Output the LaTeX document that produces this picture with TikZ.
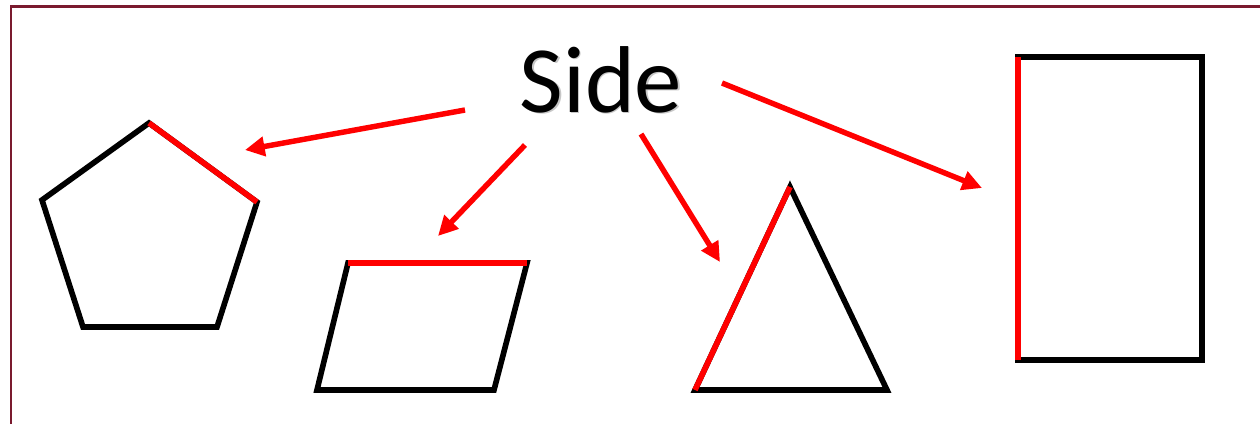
\documentclass[tikz,border=0pt]{standalone}
\usepackage{fontspec}
\newfontfamily\sidefont{Carlito}
\usetikzlibrary{arrows.meta}
\definecolor{framecol}{HTML}{7A1A2E}
\definecolor{sidered}{HTML}{FF0000}
\tikzset{
  shapeline/.style={draw=black, line width=1.6pt, line join=miter},
  sideline/.style={draw=sidered, line width=1.6pt, line cap=butt},
  pointer/.style={draw=sidered, line width=1.55pt, -{Triangle[length=5.6pt,width=5.4pt]}},
  framestyle/.style={draw=framecol, line width=0.85pt},
}
\begin{document}
\begin{tikzpicture}[x=0.01cm,y=-0.01cm]
\useasboundingbox (0,0) rectangle (1260,423);
\clip (0,0) rectangle (1260,423);
\fill[white] (0,0) rectangle (1260,423);
% frame (continues beyond the right and bottom edges)
\draw[framestyle] (11,440) -- (11,6.5) -- (1280,6.5);

% title
\node[anchor=base, text=black!22, inner sep=0pt] (sideshadow) at (602.5,113.5) {\sidefont\fontsize{27pt}{30pt}\selectfont Side};
\node[anchor=base, inner sep=0pt] (side) at (601,112) {\sidefont\fontsize{27pt}{30pt}\selectfont Side};

% pentagon
\coordinate (pA) at (149,123);
\coordinate (pB) at (257,202);
\coordinate (pC) at (217,327);
\coordinate (pD) at (83,327);
\coordinate (pE) at (42,200);
\draw[shapeline] (pA) -- (pB) -- (pC) -- (pD) -- (pE) -- cycle;
\draw[sideline] (pA) -- (pB);

% parallelogram
\coordinate (qA) at (348,263);
\coordinate (qB) at (527,263);
\coordinate (qC) at (494,390);
\coordinate (qD) at (317,390);
\draw[shapeline] (qA) -- (qB) -- (qC) -- (qD) -- cycle;
\draw[sideline] (qA) -- (qB);

% triangle
\coordinate (tA) at (790,187);
\coordinate (tB) at (887,390);
\coordinate (tC) at (695,390);
\draw[shapeline] (tA) -- (tB) -- (tC) -- cycle;
\draw[sideline] (tC) -- (tA);

% rectangle
\coordinate (rA) at (1018,57);
\coordinate (rB) at (1202,57);
\coordinate (rC) at (1202,360);
\coordinate (rD) at (1018,360);
\draw[shapeline] (rA) -- (rB) -- (rC) -- (rD) -- cycle;
\draw[sideline] (rD) -- (rA);

% pointers
\coordinate (s1) at (465,110);
\coordinate (e1) at (245,150);
\coordinate (s2) at (525,145);
\coordinate (e2) at (438,236);
\coordinate (s3) at (641,134);
\coordinate (e3) at (720,262);
\coordinate (s4) at (722,83);
\coordinate (e4) at (982,188);
\draw[pointer] (s1) -- (e1);
\draw[pointer] (s2) -- (e2);
\draw[pointer] (s3) -- (e3);
\draw[pointer] (s4) -- (e4);
\end{tikzpicture}
\end{document}
